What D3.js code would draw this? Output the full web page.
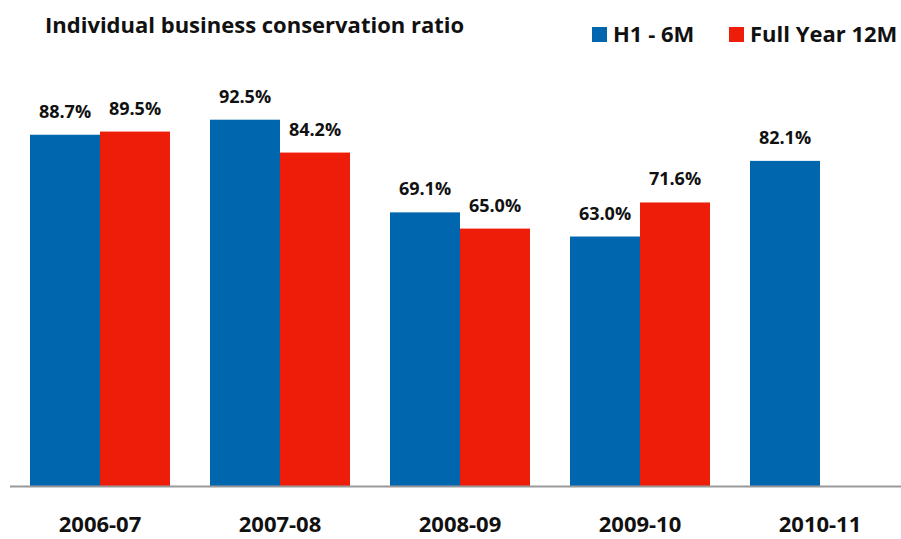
<!DOCTYPE html>
<html>
<head>
<meta charset="utf-8">
<script src="https://cdn.jsdelivr.net/npm/d3@7"></script>
<style>
  body { margin: 0; background: #fff; }
  text { font-family: "Open Sans", sans-serif; font-weight: bold; fill: #111; }
</style>
</head>
<body>
<div id="chart"></div>
<script>
// Individual business conservation ratio - grouped bars
const years = ["2006-07", "2007-08", "2008-09", "2009-10", "2010-11"];
const seriesNames = ["H1 - 6M", "Full Year 12M"];
const h1Values = [88.7, 92.5, 69.1, 63.0, 82.1];
const fullYearValues = [89.5, 84.2, 65.0, 71.6, null];
const colors = ["#0067AE", "#EE1D09"];

const W = 901, H = 539;
const svg = d3.select("#chart")
  .append("svg")
  .attr("width", W)
  .attr("height", H);

const baseY = 486;

const x = d3.scaleBand()
  .domain(years)
  .range([10, 910])
  .paddingInner(40 / 180)
  .paddingOuter(20 / 180);

const xSub = d3.scaleBand()
  .domain(seriesNames)
  .range([0, x.bandwidth()]);

const y = d3.scaleLinear()
  .domain([0, 100])
  .range([baseY, 90]);

const data = [];
years.forEach((yr, i) => {
  [h1Values[i], fullYearValues[i]].forEach((v, s) => {
    if (v != null) data.push({ year: yr, series: seriesNames[s], value: v, s: s });
  });
});

// bars
svg.selectAll("rect.bar")
  .data(data)
  .join("rect")
  .attr("class", "bar")
  .attr("x", d => x(d.year) + xSub(d.series))
  .attr("y", d => y(d.value))
  .attr("width", xSub.bandwidth())
  .attr("height", d => baseY - y(d.value))
  .attr("fill", d => colors[d.s]);

// value labels
svg.selectAll("text.val")
  .data(data)
  .join("text")
  .attr("class", "val")
  .attr("x", d => x(d.year) + xSub(d.series) + xSub.bandwidth() / 2)
  .attr("y", d => y(d.value) - 17)
  .attr("text-anchor", "middle")
  .style("font-size", "18px")
  .text(d => d.value.toFixed(1) + "%");

// x axis
const xAxis = svg.append("g")
  .attr("transform", `translate(0,${baseY})`)
  .call(d3.axisBottom(x).tickSize(0).tickPadding(30));
xAxis.select(".domain")
  .attr("d", `M10,0.5H${W}`)
  .attr("stroke", "#999")
  .attr("stroke-width", 2);
xAxis.selectAll(".tick text")
  .style("font-size", "22px")
  .style("font-family", "'Open Sans', sans-serif")
  .style("font-weight", "bold")
  .attr("fill", "#111");

// title
svg.append("text")
  .attr("x", 45)
  .attr("y", 33)
  .style("font-size", "22px")
  .text("Individual business conservation ratio");

// legend
const legendX = [592, 729];
const legend = svg.selectAll("g.legend")
  .data(seriesNames)
  .join("g")
  .attr("class", "legend")
  .attr("transform", (d, i) => `translate(${legendX[i]},27)`);
legend.append("rect")
  .attr("width", 15)
  .attr("height", 15)
  .attr("fill", (d, i) => colors[i]);
legend.append("text")
  .attr("x", 21)
  .attr("y", 15)
  .style("font-size", "22px")
  .text(d => d);
</script>
</body>
</html>
